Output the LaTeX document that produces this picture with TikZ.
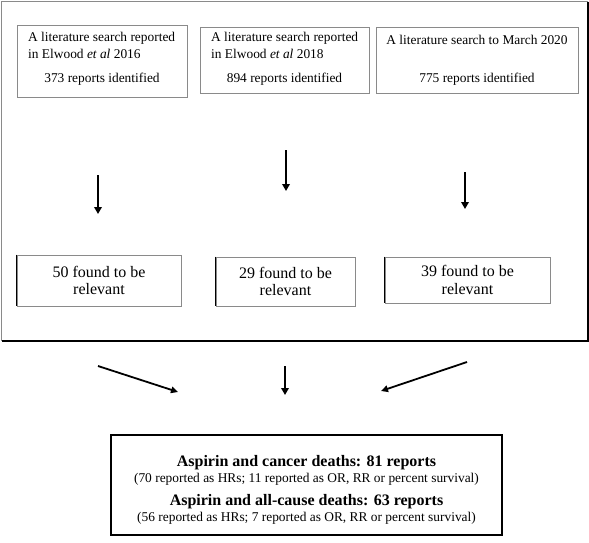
\documentclass[tikz,border=0pt]{standalone}
\usepackage{fontspec}
\setmainfont{Liberation Serif}
\usetikzlibrary{arrows.meta}
\definecolor{edgegray}{HTML}{8A8A8A}
\tikzset{
  box/.style={draw=edgegray, line width=0.9pt, inner sep=0pt},
  relbox/.style={draw=edgegray, line width=0.9pt, inner sep=0pt, align=center,
    font=\fontsize{16}{17.5}\selectfont},
  topfont/.style={font=\fontsize{13.4}{17}\selectfont},
  vflow/.style={line width=2.6pt, -{Triangle[length=7pt,width=7.5pt]}},
  dflow/.style={line width=1.8pt, -{Triangle[length=7pt,width=6.5pt]}},
}
\begin{document}
\begin{tikzpicture}[x=1pt,y=-1pt]
\useasboundingbox[fill=white] (0,0) rectangle (589,542);
% outer frame
\draw[edgegray, line width=0.9pt] (1.5,341) -- (1.5,1.5) -- (588,1.5);
\draw[black, line width=1.4pt] (588,1.5) -- (588,341) -- (1.5,341);

% top boxes
\node[box, minimum width=170, minimum height=72] (s1) at (102,61) {};
\node[topfont, anchor=north west, align=left, inner sep=0pt] (s1t) at (28,32)
  {A literature search reported\\ in Elwood \textit{et al} 2016};
\node[topfont, inner sep=0pt] (s1n) at (102,79) {373 reports identified};

\node[box, minimum width=169, minimum height=66] (s2) at (284.5,60) {};
\node[topfont, anchor=north west, align=left, inner sep=0pt] (s2t) at (211,32)
  {A literature search reported\\ in Elwood \textit{et al} 2018};
\node[topfont, inner sep=0pt] (s2n) at (284.5,79) {894 reports identified};

\node[box, minimum width=202, minimum height=66] (s3) at (477,60) {};
\node[topfont, inner sep=0pt] (s3t) at (477,40) {A literature search to March 2020};
\node[topfont, inner sep=0pt] (s3n) at (477,79) {775 reports identified};

% relevant boxes
\node[relbox, minimum width=164, minimum height=51] (r1) at (99,280.5) {50 found to be\\ relevant};
\node[relbox, minimum width=139, minimum height=49] (r2) at (285.5,281.5) {29 found to be\\ relevant};
\node[relbox, minimum width=165, minimum height=46] (r3) at (467.5,280) {39 found to be\\ relevant};
\draw[black, line width=1.2pt] (r1.north west) -- (r1.south west);
\draw[black, line width=1.2pt] (r2.north west) -- (r2.south west);
\draw[black, line width=1.2pt] (r3.north west) -- (r3.south west);

% vertical arrows
\coordinate (a1s) at (98,175);  \coordinate (a1e) at (98,214);
\coordinate (a2s) at (286,150); \coordinate (a2e) at (286,191);
\coordinate (a3s) at (465,172); \coordinate (a3e) at (465,209);
\draw[vflow] (a1s) -- (a1e);
\draw[vflow] (a2s) -- (a2e);
\draw[vflow] (a3s) -- (a3e);

% result box
\node[draw=black, line width=1.4pt, minimum width=391, minimum height=100, inner sep=0pt] (res) at (306.5,485) {};
\node[inner sep=0pt, font=\fontsize{16}{18}\selectfont\bfseries] (l1) at (306.5,463) {Aspirin and cancer deaths: 81 reports};
\node[inner sep=0pt, font=\fontsize{13.4}{16}\selectfont] (l2) at (306.5,479.5) {(70 reported as HRs; 11 reported as OR, RR or percent survival)};
\node[inner sep=0pt, font=\fontsize{16}{18}\selectfont\bfseries] (l3) at (306.5,502) {Aspirin and all-cause deaths: 63 reports};
\node[inner sep=0pt, font=\fontsize{13.4}{16}\selectfont] (l4) at (306.5,518.5) {(56 reported as HRs; 7 reported as OR, RR or percent survival)};

% converging arrows
\coordinate (d1s) at (98,366);  \coordinate (d1e) at (178,392);
\coordinate (d2s) at (285,366); \coordinate (d2e) at (285,395);
\coordinate (d3s) at (467,362); \coordinate (d3e) at (381,391);
\draw[dflow] (d1s) -- (d1e);
\draw[vflow] (d2s) -- (d2e);
\draw[dflow] (d3s) -- (d3e);
\end{tikzpicture}
\end{document}
